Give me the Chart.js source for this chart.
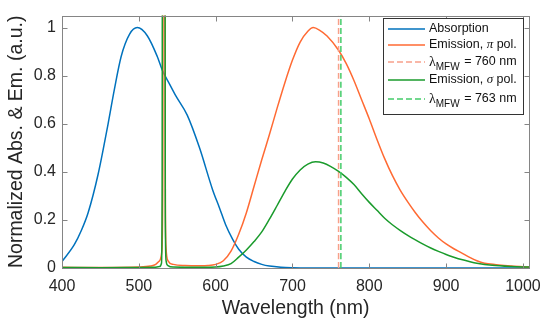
<!DOCTYPE html>
<html>
<head>
<meta charset="utf-8">
<script src="https://cdn.jsdelivr.net/npm/chart.js@4"></script>
<style>
  body { margin: 0; background: #fff; }
  canvas { display: block; }
</style>
</head>
<body>
<canvas id="specChart" width="550" height="330"></canvas>
<script>
// axis ticks
const xTicks = [400, 500, 600, 700, 800, 900, 1000];
const xTickLabels = ['400', '500', '600', '700', '800', '900', '1000'];
const yTicks = [0, 0.2, 0.4, 0.6, 0.8, 1];
const yTickLabels = ['0', '0.2', '0.4', '0.6', '0.8', '1'];

// absorption spectrum
const absWl  = [400, 416, 425, 434, 447, 460, 468, 477, 488, 498, 511, 524, 531, 540, 548, 563, 579, 596, 605, 613, 622, 630, 640, 650, 660, 670, 685, 700, 720, 800, 900, 1008];
const absVal = [0.027, 0.097, 0.155, 0.23, 0.39, 0.60, 0.74, 0.88, 0.973, 1.0, 0.966, 0.88, 0.82, 0.765, 0.717, 0.636, 0.50, 0.326, 0.25, 0.18, 0.12, 0.078, 0.045, 0.027, 0.015, 0.008, 0.003, 0.001, 0, 0, 0, 0];

// emission, pi polarisation (incl. 532 nm laser line)
const piWl  = [400, 450, 500, 515, 522, 527, 530, 531.2, 531.8, 533.8, 534.5, 535.5, 538, 545, 560, 580, 590, 600, 610, 620, 630, 640, 650, 660, 670, 680, 690, 700, 710, 720, 727, 735, 745, 760, 770, 780, 790, 800, 810, 820, 830, 840, 850, 860, 870, 880, 890, 900, 910, 920, 930, 940, 950, 965, 985, 1008];
const piVal = [0.003, 0.002, 0.004, 0.008, 0.015, 0.03, 0.07, 0.4, 1.6, 1.6, 0.3, 0.08, 0.03, 0.015, 0.01, 0.009, 0.01, 0.015, 0.03, 0.07, 0.14, 0.23, 0.34, 0.45, 0.555, 0.665, 0.77, 0.865, 0.94, 0.985, 1.0, 0.99, 0.965, 0.906, 0.85, 0.78, 0.70, 0.62, 0.535, 0.455, 0.385, 0.325, 0.275, 0.23, 0.19, 0.155, 0.125, 0.1, 0.08, 0.063, 0.045, 0.03, 0.02, 0.014, 0.008, 0.004];

// emission, sigma polarisation
const sigWl  = [400, 450, 500, 520, 527, 529.5, 530.3, 530.8, 534, 534.5, 535.5, 538, 545, 580, 600, 610, 620, 630, 640, 650, 660, 670, 680, 690, 700, 710, 720, 730, 740, 750, 760, 770, 780, 790, 800, 810, 820, 830, 840, 850, 860, 870, 880, 890, 900, 910, 920, 930, 940, 960, 985, 1008];
const sigVal = [0.002, 0.001, 0.002, 0.003, 0.006, 0.02, 0.3, 1.6, 1.6, 0.2, 0.03, 0.01, 0.004, 0.003, 0.004, 0.008, 0.018, 0.045, 0.075, 0.11, 0.15, 0.203, 0.26, 0.318, 0.37, 0.408, 0.432, 0.442, 0.437, 0.422, 0.402, 0.377, 0.347, 0.309, 0.273, 0.24, 0.207, 0.18, 0.157, 0.136, 0.117, 0.099, 0.083, 0.069, 0.056, 0.045, 0.035, 0.027, 0.02, 0.011, 0.006, 0.004];

// mean fluorescence wavelengths
const mfwPi = 760;
const mfwSig = 763;

const xMin = 400, xMax = 1008, yMin = 0, yMax = 1.05;

function toPoints(xs, ys) {
  return xs.map((x, i) => ({ x: x, y: ys[i] }));
}

// matlab-like box, inward ticks and legend
const boxPlugin = {
  id: 'boxPlugin',
  afterDraw(chart) {
    const ctx = chart.ctx;
    const a = chart.chartArea;
    const xs = chart.scales.x, ys = chart.scales.y;
    const L = Math.round(a.left) + 0.5, R = Math.round(a.right) + 0.5;
    const T = Math.round(a.top) + 0.5, B = Math.round(a.bottom) + 0.5;
    ctx.save();
    ctx.strokeStyle = '#858585';
    ctx.lineWidth = 1;
    ctx.strokeRect(L, T, R - L, B - T);
    ctx.beginPath();
    xTicks.forEach(v => {
      const px = Math.round(xs.getPixelForValue(v)) + 0.5;
      ctx.moveTo(px, B); ctx.lineTo(px, B - 5);
      ctx.moveTo(px, T); ctx.lineTo(px, T + 5);
    });
    yTicks.forEach(v => {
      const py = Math.round(ys.getPixelForValue(v)) + 0.5;
      ctx.moveTo(L, py); ctx.lineTo(L + 5, py);
      ctx.moveTo(R, py); ctx.lineTo(R - 5, py);
    });
    ctx.stroke();

    // legend
    const lx = 383.5, ly = 18.5, lw = 140, lh = 96;
    ctx.fillStyle = '#fff';
    ctx.fillRect(lx, ly, lw, lh);
    ctx.strokeStyle = '#333';
    ctx.strokeRect(lx, ly, lw, lh);
    const rowY = [29, 45, 62, 80, 99];
    chart.data.datasets.forEach((ds, i) => {
      const y = rowY[i];
      ctx.strokeStyle = ds.borderColor;
      ctx.lineWidth = 1.5;
      ctx.setLineDash(ds.borderDash || []);
      ctx.beginPath();
      ctx.moveTo(388, y); ctx.lineTo(425, y);
      ctx.stroke();
      ctx.setLineDash([]);
      drawLabel(ctx, ds.label, 429, y);
    });
    ctx.restore();
  }
};

// draws labels with _{sub} and greek letters in serif italic
function drawLabel(ctx, text, x, y) {
  const sans = '12.5px "Liberation Sans", Arial, sans-serif';
  const serif = 'italic 13px "Liberation Serif", "Times New Roman", serif';
  ctx.fillStyle = '#111';
  ctx.textBaseline = 'middle';
  ctx.textAlign = 'left';
  const parts = text.split(/(_\{[^}]*\}|[λπσ])/).filter(s => s.length);
  parts.forEach(p => {
    if (p.startsWith('_{')) {
      ctx.font = '10px "Liberation Sans", Arial, sans-serif';
      const s = p.slice(2, -1);
      ctx.fillText(s, x, y + 5);
      x += ctx.measureText(s).width + 1;
    } else if (/[λπσ]/.test(p)) {
      ctx.font = p === 'λ' ? '14px "Liberation Serif", serif' : serif;
      ctx.fillText(p, x, y);
      x += ctx.measureText(p).width;
    } else {
      ctx.font = sans;
      ctx.fillText(p, x, y);
      x += ctx.measureText(p).width;
    }
  });
}

const specCtx = document.getElementById('specChart').getContext('2d');
new Chart(specCtx, {
  type: 'line',
  data: {
    datasets: [{
      label: 'Absorption',
      data: toPoints(absWl, absVal),
      borderColor: '#0072BD',
      order: 5
    }, {
      label: 'Emission, π pol.',
      data: toPoints(piWl, piVal),
      borderColor: '#FF6A33',
      order: 4
    }, {
      label: 'λ_{MFW} = ' + mfwPi + ' nm',
      data: toPoints([mfwPi, mfwPi], [yMin, yMax]),
      borderColor: '#F7A08A',
      borderDash: [6, 3],
      order: 3
    }, {
      label: 'Emission, σ pol.',
      data: toPoints(sigWl, sigVal),
      borderColor: '#1A9B2C',
      order: 2
    }, {
      label: 'λ_{MFW} = ' + mfwSig + ' nm',
      data: toPoints([mfwSig, mfwSig], [yMin, yMax]),
      borderColor: '#44CC6A',
      borderDash: [6, 3],
      order: 1
    }]
  },
  options: {
    responsive: false,
    animation: false,
    devicePixelRatio: 1,
    layout: { padding: { left: 0, top: 8, right: 19, bottom: 0 } },
    elements: {
      point: { radius: 0 },
      line: { borderWidth: 1.5, cubicInterpolationMode: 'monotone' }
    },
    plugins: {
      legend: { display: false },
      tooltip: { enabled: false }
    },
    scales: {
      x: {
        type: 'linear',
        min: xMin,
        max: xMax,
        grid: { display: false, drawTicks: false },
        border: { display: false },
        afterBuildTicks: axis => { axis.ticks = xTicks.map(v => ({ value: v })); },
        afterFit: axis => { axis.height = 62; },
        ticks: {
          padding: 9,
          color: '#262626',
          font: { family: '"Liberation Sans", Arial, sans-serif', size: 16 },
          callback: function (value) {
            const i = xTicks.indexOf(value);
            return i >= 0 ? xTickLabels[i] : '';
          }
        },
        title: {
          display: true,
          text: 'Wavelength (nm)',
          color: '#262626',
          padding: { top: 0, bottom: 10 },
          font: { family: '"Liberation Sans", Arial, sans-serif', size: 19.5 }
        }
      },
      y: {
        type: 'linear',
        min: yMin,
        max: yMax,
        grid: { display: false, drawTicks: false },
        border: { display: false },
        afterBuildTicks: axis => { axis.ticks = yTicks.map(v => ({ value: v })); },
        afterFit: axis => { axis.width = 62; },
        ticks: {
          padding: 6,
          color: '#262626',
          font: { family: '"Liberation Sans", Arial, sans-serif', size: 16 },
          callback: function (value) {
            const i = yTicks.indexOf(value);
            return i >= 0 ? yTickLabels[i] : '';
          }
        },
        title: {
          display: true,
          text: 'Normalized Abs. & Em. (a.u.)',
          color: '#262626',
          padding: { top: 5, bottom: 0 },
          font: { family: '"Liberation Sans", Arial, sans-serif', size: 19.5 }
        }
      }
    }
  },
  plugins: [boxPlugin]
});
</script>
</body>
</html>
